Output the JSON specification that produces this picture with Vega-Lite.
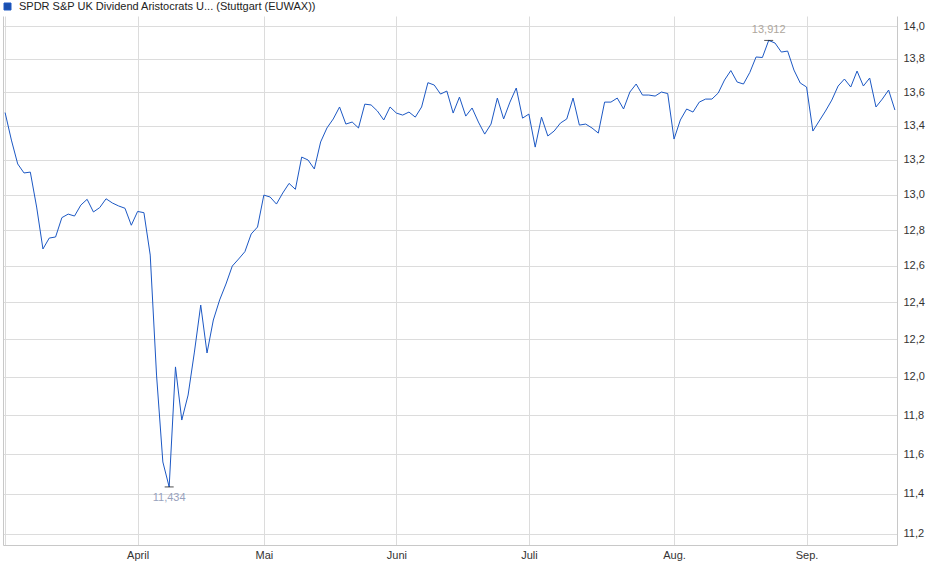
{
  "$schema": "https://vega.github.io/schema/vega-lite/v6.json",
  "width": 894,
  "height": 529,
  "autosize": "none",
  "padding": {"left": 3, "top": 16, "right": 43, "bottom": 34},
  "background": "white",
  "config": {
    "view": {"stroke": null},
    "locale": {"number": {"decimal": ",", "thousands": ".", "grouping": [3], "currency": ["", " €"]}},
    "font": "Liberation Sans",
    "axis": {"labelFont": "Liberation Sans", "labelFontSize": 11, "labelColor": "#333333", "gridColor": "#dcdcdc", "gridWidth": 1, "domainColor": "#c8c8c8", "ticks": false, "title": null}
  },
  "data": {"values": [
    {"date": "2025-03-03", "price": 13.478},
    {"date": "2025-03-04", "price": 13.316},
    {"date": "2025-03-05", "price": 13.177},
    {"date": "2025-03-06", "price": 13.125},
    {"date": "2025-03-07", "price": 13.130},
    {"date": "2025-03-10", "price": 12.930},
    {"date": "2025-03-11", "price": 12.694},
    {"date": "2025-03-12", "price": 12.755},
    {"date": "2025-03-13", "price": 12.761},
    {"date": "2025-03-14", "price": 12.870},
    {"date": "2025-03-17", "price": 12.890},
    {"date": "2025-03-18", "price": 12.879},
    {"date": "2025-03-19", "price": 12.941},
    {"date": "2025-03-20", "price": 12.974},
    {"date": "2025-03-21", "price": 12.902},
    {"date": "2025-03-24", "price": 12.927},
    {"date": "2025-03-25", "price": 12.977},
    {"date": "2025-03-26", "price": 12.953},
    {"date": "2025-03-27", "price": 12.936},
    {"date": "2025-03-28", "price": 12.923},
    {"date": "2025-03-31", "price": 12.827},
    {"date": "2025-04-01", "price": 12.905},
    {"date": "2025-04-02", "price": 12.898},
    {"date": "2025-04-03", "price": 12.660},
    {"date": "2025-04-04", "price": 12.010},
    {"date": "2025-04-07", "price": 11.560},
    {"date": "2025-04-08", "price": 11.434},
    {"date": "2025-04-09", "price": 12.053},
    {"date": "2025-04-10", "price": 11.775},
    {"date": "2025-04-11", "price": 11.905},
    {"date": "2025-04-14", "price": 12.132},
    {"date": "2025-04-15", "price": 12.385},
    {"date": "2025-04-16", "price": 12.127},
    {"date": "2025-04-17", "price": 12.304},
    {"date": "2025-04-22", "price": 12.413},
    {"date": "2025-04-23", "price": 12.500},
    {"date": "2025-04-24", "price": 12.599},
    {"date": "2025-04-25", "price": 12.638},
    {"date": "2025-04-28", "price": 12.679},
    {"date": "2025-04-29", "price": 12.778},
    {"date": "2025-04-30", "price": 12.817},
    {"date": "2025-05-02", "price": 12.998},
    {"date": "2025-05-05", "price": 12.987},
    {"date": "2025-05-06", "price": 12.947},
    {"date": "2025-05-07", "price": 13.010},
    {"date": "2025-05-08", "price": 13.065},
    {"date": "2025-05-09", "price": 13.031},
    {"date": "2025-05-12", "price": 13.217},
    {"date": "2025-05-13", "price": 13.200},
    {"date": "2025-05-14", "price": 13.148},
    {"date": "2025-05-15", "price": 13.305},
    {"date": "2025-05-16", "price": 13.387},
    {"date": "2025-05-19", "price": 13.440},
    {"date": "2025-05-20", "price": 13.511},
    {"date": "2025-05-21", "price": 13.410},
    {"date": "2025-05-22", "price": 13.422},
    {"date": "2025-05-23", "price": 13.387},
    {"date": "2025-05-26", "price": 13.528},
    {"date": "2025-05-27", "price": 13.523},
    {"date": "2025-05-28", "price": 13.487},
    {"date": "2025-05-29", "price": 13.434},
    {"date": "2025-05-30", "price": 13.511},
    {"date": "2025-06-02", "price": 13.475},
    {"date": "2025-06-03", "price": 13.463},
    {"date": "2025-06-04", "price": 13.481},
    {"date": "2025-06-05", "price": 13.451},
    {"date": "2025-06-06", "price": 13.511},
    {"date": "2025-06-09", "price": 13.656},
    {"date": "2025-06-10", "price": 13.642},
    {"date": "2025-06-11", "price": 13.588},
    {"date": "2025-06-12", "price": 13.606},
    {"date": "2025-06-13", "price": 13.475},
    {"date": "2025-06-16", "price": 13.570},
    {"date": "2025-06-17", "price": 13.457},
    {"date": "2025-06-18", "price": 13.505},
    {"date": "2025-06-19", "price": 13.422},
    {"date": "2025-06-20", "price": 13.351},
    {"date": "2025-06-23", "price": 13.410},
    {"date": "2025-06-24", "price": 13.564},
    {"date": "2025-06-25", "price": 13.440},
    {"date": "2025-06-26", "price": 13.540},
    {"date": "2025-06-27", "price": 13.624},
    {"date": "2025-06-30", "price": 13.445},
    {"date": "2025-07-01", "price": 13.469},
    {"date": "2025-07-02", "price": 13.275},
    {"date": "2025-07-03", "price": 13.451},
    {"date": "2025-07-04", "price": 13.340},
    {"date": "2025-07-07", "price": 13.369},
    {"date": "2025-07-08", "price": 13.416},
    {"date": "2025-07-09", "price": 13.440},
    {"date": "2025-07-10", "price": 13.564},
    {"date": "2025-07-11", "price": 13.404},
    {"date": "2025-07-14", "price": 13.410},
    {"date": "2025-07-15", "price": 13.387},
    {"date": "2025-07-16", "price": 13.357},
    {"date": "2025-07-17", "price": 13.540},
    {"date": "2025-07-18", "price": 13.540},
    {"date": "2025-07-21", "price": 13.564},
    {"date": "2025-07-22", "price": 13.499},
    {"date": "2025-07-23", "price": 13.600},
    {"date": "2025-07-24", "price": 13.648},
    {"date": "2025-07-25", "price": 13.582},
    {"date": "2025-07-28", "price": 13.582},
    {"date": "2025-07-29", "price": 13.576},
    {"date": "2025-07-30", "price": 13.600},
    {"date": "2025-07-31", "price": 13.591},
    {"date": "2025-08-01", "price": 13.322},
    {"date": "2025-08-04", "price": 13.434},
    {"date": "2025-08-05", "price": 13.499},
    {"date": "2025-08-06", "price": 13.481},
    {"date": "2025-08-07", "price": 13.540},
    {"date": "2025-08-08", "price": 13.558},
    {"date": "2025-08-11", "price": 13.558},
    {"date": "2025-08-12", "price": 13.594},
    {"date": "2025-08-13", "price": 13.672},
    {"date": "2025-08-14", "price": 13.729},
    {"date": "2025-08-15", "price": 13.660},
    {"date": "2025-08-18", "price": 13.648},
    {"date": "2025-08-19", "price": 13.717},
    {"date": "2025-08-20", "price": 13.811},
    {"date": "2025-08-21", "price": 13.808},
    {"date": "2025-08-22", "price": 13.912},
    {"date": "2025-08-25", "price": 13.896},
    {"date": "2025-08-26", "price": 13.841},
    {"date": "2025-08-27", "price": 13.847},
    {"date": "2025-08-28", "price": 13.732},
    {"date": "2025-08-29", "price": 13.654},
    {"date": "2025-09-01", "price": 13.630},
    {"date": "2025-09-02", "price": 13.369},
    {"date": "2025-09-03", "price": 13.428},
    {"date": "2025-09-04", "price": 13.487},
    {"date": "2025-09-05", "price": 13.552},
    {"date": "2025-09-08", "price": 13.636},
    {"date": "2025-09-09", "price": 13.678},
    {"date": "2025-09-10", "price": 13.630},
    {"date": "2025-09-11", "price": 13.726},
    {"date": "2025-09-12", "price": 13.636},
    {"date": "2025-09-15", "price": 13.684},
    {"date": "2025-09-16", "price": 13.511},
    {"date": "2025-09-17", "price": 13.558},
    {"date": "2025-09-18", "price": 13.612},
    {"date": "2025-09-19", "price": 13.493}
  ]},
  "encoding": {
    "x": {
      "field": "date", "type": "ordinal",
      "scale": {"type": "point", "padding": 0.33},
      "axis": {
        "values": ["2025-03-03", "2025-04-01", "2025-05-02", "2025-06-02", "2025-07-01", "2025-08-01", "2025-09-01"],
        "labelExpr": "['','','','','April','Mai','Juni','Juli','Aug.','Sep.'][toNumber(substring(datum.value,5,7))]",
        "grid": true, "domain": true, "labelAngle": 0, "labelPadding": 4, "title": null
      }
    },
    "y": {
      "field": "price", "type": "quantitative",
      "scale": {"type": "log", "domain": [11.146, 14.062], "nice": false, "zero": false},
      "axis": {
        "orient": "right",
        "values": [11.2, 11.4, 11.6, 11.8, 12.0, 12.2, 12.4, 12.6, 12.8, 13.0, 13.2, 13.4, 13.6, 13.8, 14.0],
        "format": ".1f", "grid": true, "domain": true, "labelPadding": 6, "title": null
      }
    }
  },
  "layer": [
    {
      "mark": {"type": "line", "strokeWidth": 1, "interpolate": "linear"},
      "encoding": {
        "color": {
          "datum": "SPDR S&P UK Dividend Aristocrats U... (Stuttgart (EUWAX))",
          "scale": {"range": ["#1c58c4"]},
          "legend": {
            "orient": "none", "legendX": -1, "legendY": -15, "title": null, "padding": 0,
            "symbolType": "square", "symbolSize": 49, "labelOffset": 6, "labelLimit": 500,
            "labelFont": "Liberation Sans", "labelFontSize": 11, "labelColor": "#222222",
            "symbolFillColor": "#1a4fae", "symbolStrokeColor": "#0f3580", "symbolStrokeWidth": 1,
            "encode": {"symbols": {"update": {"fill": {"value": "#1a4fae"}, "stroke": {"value": "#0f3580"}, "shape": {"value": "square"}}}}
          }
        }
      }
    },
    {
      "transform": [
        {"joinaggregate": [{"op": "min", "field": "price", "as": "pmin"}, {"op": "max", "field": "price", "as": "pmax"}]},
        {"filter": "datum.price == datum.pmin || datum.price == datum.pmax"}
      ],
      "mark": {"type": "tick", "orient": "horizontal", "size": 9, "thickness": 1, "color": "#000000"},
      "encoding": {
        "y": {
          "field": "price", "type": "quantitative",
          "axis": {"orient": "left", "labels": false, "grid": false, "ticks": false, "domain": true, "title": null}
        }
      }
    },
    {
      "transform": [
        {"joinaggregate": [{"op": "min", "field": "price", "as": "pmin"}]},
        {"filter": "datum.price == datum.pmin"}
      ],
      "mark": {"type": "text", "dy": 11, "baseline": "middle", "align": "center", "fontSize": 11, "font": "Liberation Sans", "color": "#98a2bd"},
      "encoding": {
        "y": {"field": "price", "type": "quantitative", "axis": null},
        "text": {"field": "price", "type": "quantitative", "format": ".3f"}
      }
    },
    {
      "transform": [
        {"joinaggregate": [{"op": "max", "field": "price", "as": "pmax"}]},
        {"filter": "datum.price == datum.pmax"}
      ],
      "mark": {"type": "text", "dy": -10, "baseline": "middle", "align": "center", "fontSize": 11, "font": "Liberation Sans", "color": "#ada69c"},
      "encoding": {
        "y": {"field": "price", "type": "quantitative", "axis": null},
        "text": {"field": "price", "type": "quantitative", "format": ".3f"}
      }
    }
  ],
  "resolve": {"axis": {"y": "independent"}}
}
